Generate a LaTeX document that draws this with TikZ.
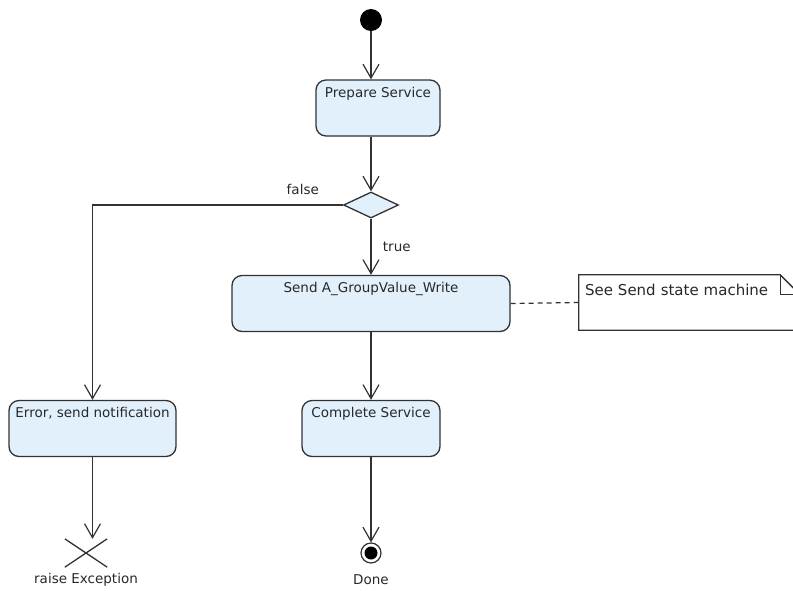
\documentclass[tikz,border=0pt]{standalone}
\usepackage{fontspec}
\setmainfont{DejaVu Sans}
\usepackage{tikz}
\usetikzlibrary{arrows.meta,shapes.geometric,shapes.misc}
\definecolor{actfill}{RGB}{226,240,251}
\definecolor{linegray}{RGB}{50,50,50}
\definecolor{textgray}{RGB}{40,40,40}

\begin{document}
\begin{tikzpicture}[x=1pt, y=-1pt, font=\fontsize{13.5}{16}\selectfont, text=textgray,
		flow/.style={draw=linegray, line width=1.2pt, -{Straight Barb[length=14pt,width=16pt]}},
		act/.style={draw=linegray, line width=1.3pt, fill=actfill, rounded corners=10pt, inner sep=3pt, minimum height=56pt, text height=14pt, text depth=36pt},
		decision/.style={diamond, draw=linegray, line width=1.3pt, fill=actfill, inner sep=0pt, minimum width=55pt, minimum height=26pt},
		startnode/.style={circle, fill=black, inner sep=0pt, minimum size=22pt},
		endnode/.style={circle, draw=linegray, line width=1.2pt, fill=white, inner sep=0pt, minimum size=20pt, path picture={\fill[black] (path picture bounding box.center) circle (6.5pt);}},
		flowend/.style={cross out, draw=linegray, line width=1.3pt, inner sep=0pt, minimum width=41pt, minimum height=27pt},
		notetext/.style={font=\fontsize{15}{18}\selectfont, text width=209pt, align=left, inner xsep=6pt, inner ysep=3pt, text height=17pt, text depth=32pt},
		notebox/.style={draw=linegray, line width=1.3pt, line join=miter}]
		\useasboundingbox (0,0) rectangle (793,590);
		\node[startnode] (start) at (371,20) {};
		\node[act, minimum width=124pt] (prep) at (378,108) {Prepare Service};
		\node[decision] (dec) at (371,205) {};
		\node[act, minimum width=278pt] (send) at (371,303.5) {Send A\_GroupValue\_Write};
		\node[act, minimum width=167pt] (err) at (92.5,428.5) {Error, send notification};
		\node[act, minimum width=138pt] (comp) at (371,428.5) {Complete Service};
		\node[flowend] (exc) at (86,553) {};
		\node (exctext) at (86,580) {raise Exception};
		\node[endnode] (final) at (371,553) {};
		\node (donetext) at (371,580) {Done};
		\node[notetext] (note) at (689.5,302.5) {See Send state machine};
		\draw[notebox] (note.north west) -- ([xshift=-20pt]note.north east) -- ([yshift=-20pt]note.north east) -- (note.south east) -- (note.south west) -- cycle;
		\draw[notebox] ([xshift=-20pt]note.north east) |- ([yshift=-20pt]note.north east);
		\draw[flow] (start) -- (start |- prep.north);
		\draw[flow] (prep.south -| dec) -- (dec.north);
		\draw[flow] (dec.south) -- (send.north) node[midway, right=8pt] {true};
		\draw[flow] (dec.west) -| (err.north) node[pos=0.08, above=6pt] {false};
		\draw[flow] (send) -- (comp);
		\draw[flow] (err.south) -- (err.south |- exc.north);
		\draw[flow] (comp) -- (final);
		\draw[draw=linegray, line width=1.2pt, dash pattern=on 5pt off 4pt] (send.east) -- (note.west);
	\end{tikzpicture}
\end{document}
